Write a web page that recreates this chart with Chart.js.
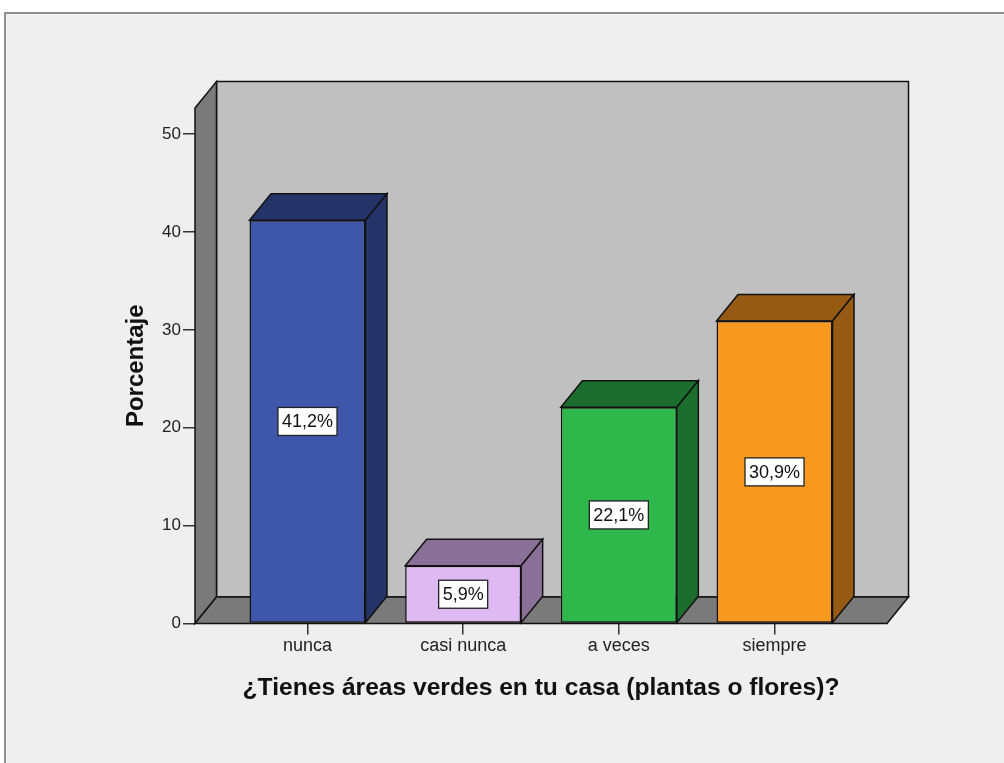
<!DOCTYPE html>
<html>
<head>
<meta charset="utf-8">
<script src="https://cdn.jsdelivr.net/npm/chart.js@4/dist/chart.umd.min.js"></script>
<style>
  html, body { margin: 0; padding: 0; background: #ffffff; }
  #wrap { width: 1004px; height: 763px; position: relative; }
</style>
</head>
<body>
<div id="wrap"><canvas id="c" width="1004" height="763"></canvas></div>
<script>
// ---- data ----
const categories = ['nunca', 'casi nunca', 'a veces', 'siempre'];
const percentages = [41.2, 5.9, 22.1, 30.9];
const yTicks = [0, 10, 20, 30, 40, 50];
const yTitle = 'Porcentaje';
const xTitle = '¿Tienes áreas verdes en tu casa (plantas o flores)?';

// ---- styles ----
const frontColors = ['#3e57aa', '#dfb9f1', '#2eb84b', '#f7991f'];
const sideColors  = ['#243468', '#8a7096', '#1c6e2e', '#965a13'];
const FONT = "'Liberation Sans', Arial, sans-serif";
const DX = 21.5, DY = 26.5;   // 3D depth offset

function fmt(v) { return v.toFixed(1).replace('.', ',') + '%'; }

const frame = {
  id: 'frame',
  beforeDraw(chart) {
    const ctx = chart.ctx;
    ctx.save();
    ctx.fillStyle = '#ffffff';
    ctx.fillRect(0, 0, chart.width, chart.height);
    ctx.fillStyle = '#efefef';
    ctx.fillRect(5, 13, chart.width + 10, chart.height + 10);
    ctx.strokeStyle = '#8f8f8f';
    ctx.lineWidth = 2;
    ctx.strokeRect(5, 13, chart.width + 10, chart.height + 10);
    ctx.restore();
  }
};

const walls = {
  id: 'walls',
  beforeDatasetsDraw(chart) {
    const {ctx, chartArea: a} = chart;
    const L = a.left, R = a.right, T = a.top, B = a.bottom;
    ctx.save();
    ctx.lineJoin = 'miter';
    ctx.strokeStyle = '#111';
    ctx.lineWidth = 1.5;
    // back wall
    ctx.fillStyle = '#c0c0c0';
    ctx.beginPath();
    ctx.rect(L + DX, T - DY, R - L, B - T);
    ctx.fill(); ctx.stroke();
    // left wall
    ctx.fillStyle = '#7a7a7a';
    ctx.beginPath();
    ctx.moveTo(L, T); ctx.lineTo(L + DX, T - DY); ctx.lineTo(L + DX, B - DY); ctx.lineTo(L, B);
    ctx.closePath(); ctx.fill(); ctx.stroke();
    // floor
    ctx.beginPath();
    ctx.moveTo(L, B); ctx.lineTo(L + DX, B - DY); ctx.lineTo(R + DX, B - DY); ctx.lineTo(R, B);
    ctx.closePath(); ctx.fill(); ctx.stroke();
    ctx.restore();
  }
};

const bars3d = {
  id: 'bars3d',
  afterDatasetsDraw(chart) {
    const ctx = chart.ctx;
    const meta = chart.getDatasetMeta(0);
    ctx.save();
    ctx.strokeStyle = '#111';
    ctx.lineWidth = 1.5;
    ctx.lineJoin = 'miter';
    meta.data.forEach((el, i) => {
      const {x, y, base, width} = el.getProps(['x', 'y', 'base', 'width'], true);
      const l = x - width / 2, r = x + width / 2;
      ctx.fillStyle = sideColors[i];
      // top face
      ctx.beginPath();
      ctx.moveTo(l, y); ctx.lineTo(l + DX, y - DY); ctx.lineTo(r + DX, y - DY); ctx.lineTo(r, y);
      ctx.closePath(); ctx.fill(); ctx.stroke();
      // side face
      ctx.beginPath();
      ctx.moveTo(r, y); ctx.lineTo(r + DX, y - DY); ctx.lineTo(r + DX, base - DY); ctx.lineTo(r, base);
      ctx.closePath(); ctx.fill(); ctx.stroke();
    });
    // value labels
    ctx.font = '18px ' + FONT;
    ctx.textAlign = 'center';
    ctx.textBaseline = 'middle';
    meta.data.forEach((el, i) => {
      const {x, y, base} = el.getProps(['x', 'y', 'base'], true);
      const cy = (y + base) / 2;
      const txt = fmt(percentages[i]);
      const w = ctx.measureText(txt).width + 8;
      const h = 28;
      ctx.fillStyle = '#ffffff';
      ctx.fillRect(x - w / 2, cy - h / 2, w, h);
      ctx.strokeStyle = '#222';
      ctx.lineWidth = 1.3;
      ctx.strokeRect(x - w / 2, cy - h / 2, w, h);
      ctx.fillStyle = '#111';
      ctx.fillText(txt, x, cy + 1);
    });
    ctx.restore();
  }
};

new Chart(document.getElementById('c'), {
  type: 'bar',
  data: {
    datasets: [{
      data: percentages.map((v, i) => ({x: i, y: v})),
      backgroundColor: frontColors,
      borderColor: '#111',
      borderWidth: 1.5,
      borderSkipped: false,
      barPercentage: 0.745,
      categoryPercentage: 1
    }]
  },
  options: {
    responsive: false,
    animation: false,
    events: [],
    layout: { padding: { left: 120, right: 117, top: 108, bottom: 58 } },
    plugins: { legend: { display: false }, tooltip: { enabled: false } },
    scales: {
      x: {
        type: 'linear',
        offset: false,
        min: -0.7225,
        max: 3.7225,
        afterBuildTicks(scale) { scale.ticks = categories.map((c, i) => ({value: i})); },
        afterFit(scale) { scale.height = 81.5; },
        grid: { offset: false, drawOnChartArea: false, tickLength: 11, color: '#333', lineWidth: 1.5 },
        border: { display: false },
        ticks: {
          autoSkip: false, maxRotation: 0, padding: 1,
          color: '#222', font: { family: FONT, size: 18 },
          callback: (v) => categories[Math.round(v)]
        },
        title: {
          display: true, text: xTitle, color: '#111',
          font: { family: FONT, size: 24.6, weight: 'bold', lineHeight: 1.2 },
          padding: { top: 0, bottom: 2 }
        }
      },
      y: {
        min: 0,
        max: 52.66,
        afterBuildTicks(scale) { scale.ticks = yTicks.map(v => ({value: v})); },
        afterFit(scale) { scale.width = 75; },
        grid: { drawOnChartArea: false, tickLength: 12, color: '#333', lineWidth: 1.5 },
        border: { display: false },
        ticks: {
          padding: 2, color: '#222', font: { family: FONT, size: 17 },
          callback: (v) => String(v)
        },
        title: {
          display: true, text: yTitle, color: '#111',
          font: { family: FONT, size: 24, weight: 'bold', lineHeight: 1.2 },
          padding: { top: 2, bottom: 0 }
        }
      }
    }
  },
  plugins: [frame, walls, bars3d]
});
</script>
</body>
</html>
